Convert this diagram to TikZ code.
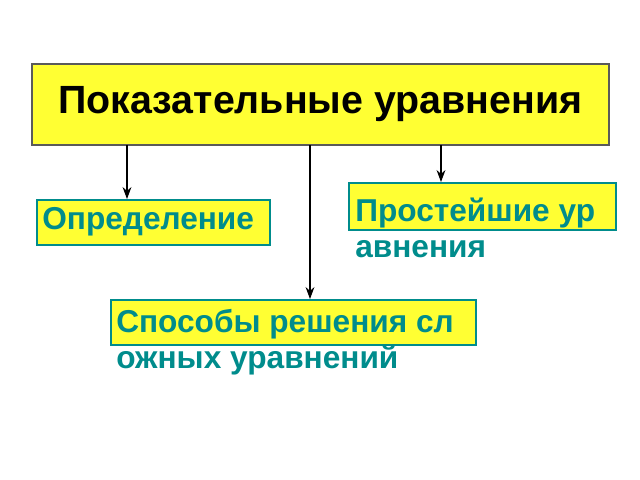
\documentclass[tikz,border=0pt]{standalone}
\usepackage{fontspec}
\setmainfont{Liberation Sans}
\usetikzlibrary{positioning,arrows.meta}
\definecolor{boxyellow}{RGB}{255,255,51}
\definecolor{textteal}{RGB}{0,140,140}
\definecolor{edgegray}{RGB}{90,90,90}
\tikzset{
  headbox/.style={draw=edgegray, line width=1.2pt, fill=boxyellow, minimum width=14.43cm, minimum height=2.03cm},
  subbox/.style={draw=textteal, line width=1.2pt, fill=boxyellow, inner sep=0pt},
  subtext/.style={font=\fontsize{22.5}{25.5}\selectfont\bfseries, text=textteal, anchor=north west, align=left, inner sep=0pt},
  link/.style={-{Stealth[length=3mm,width=2.2mm]}, line width=1pt}
}
\begin{document}
\begin{tikzpicture}[x=0.025cm, y=-0.025cm]
\useasboundingbox (0,0) rectangle (640,480);

% === TOP: title box ===
\node[headbox, font=\fontsize{28}{30}\selectfont\bfseries] (title) at (320.5,104.5) {Показательные уравнения};

% === LOWER BOXES ===
\node[subbox, minimum width=5.83cm, minimum height=1.13cm] (defbox) at (153.5,222.5) {};
\node[subtext, anchor=west] (deftext) at (42,222) {Определение};

\node[subbox, minimum width=6.68cm, minimum height=1.18cm] (simplebox) at (482.5,206.5) {};
\node[subtext] (simpletext) at (355,198) {Простейшие ур\\авнения};

\node[subbox, minimum width=9.13cm, minimum height=1.13cm] (methodbox) at (293.5,322.5) {};
\node[subtext] (methodtext) at (116,309) {Способы решения сл\\ожных уравнений};

% === ARROWS ===
\coordinate (l0) at (127,145);
\coordinate (m0) at (310,145);
\coordinate (r0) at (441,145);
\draw[link] (l0) -- (l0 |- defbox.north);
\draw[link] (m0) -- (m0 |- methodbox.north);
\draw[link] (r0) -- (r0 |- simplebox.north);

\end{tikzpicture}
\end{document}
